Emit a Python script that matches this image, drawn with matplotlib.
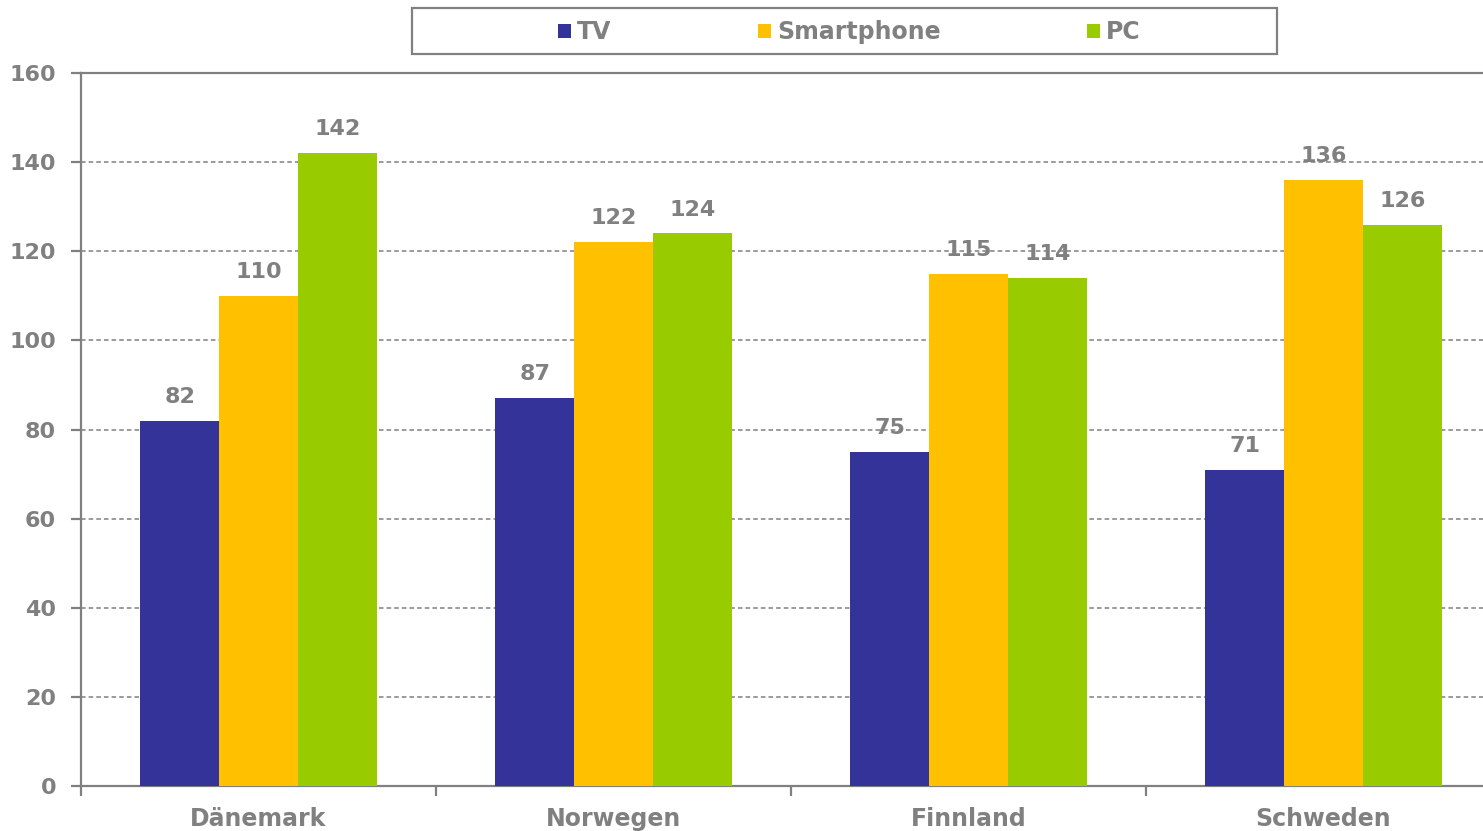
import matplotlib
matplotlib.use("Agg")
import matplotlib.pyplot as plt
from matplotlib.patches import Rectangle
import numpy as np

categories = ["Dänemark", "Norwegen", "Finnland", "Schweden"]
series_names = ["TV", "Smartphone", "PC"]
tv = [82, 87, 75, 71]
smartphone = [110, 122, 115, 136]
pc = [142, 124, 114, 126]
colors = ["#333399", "#FFC000", "#99CC00"]
yticks = [0, 20, 40, 60, 80, 100, 120, 140, 160]

gray = "#808080"
plt.rcParams['font.family'] = ['DejaVu Sans']
plt.rcParams['font.weight'] = 'bold'

W, H = 1483, 831
fig = plt.figure(figsize=(W / 100, H / 100), dpi=100)
ax = fig.add_axes([81 / W, 45 / H, 1420 / W, 713 / H])

x = np.arange(len(categories))
bw = 0.222
data = [tv, smartphone, pc]
for i, (vals, name, c) in enumerate(zip(data, series_names, colors)):
    bars = ax.bar(x + (i - 1) * bw, vals, width=bw, color=c, label=name, zorder=3)
    for b, v in zip(bars, vals):
        ax.annotate(str(v), (b.get_x() + b.get_width() / 2, b.get_height()),
                    xytext=(0, 10), textcoords="offset points", ha="center", va="bottom",
                    fontsize=16, color=gray, fontweight="bold", zorder=4)

ax.set_xlim(-0.5, len(categories) - 0.5)
ax.set_ylim(0, 160)
ax.set_yticks(yticks)
ax.set_yticklabels([str(t) for t in yticks])
ax.set_xticks(x)
ax.set_xticklabels(categories)
ax.set_xticks(np.arange(len(categories) + 1) - 0.5, minor=True)

for t in yticks[1:-1]:
    ax.axhline(t, color=gray, lw=1.1, ls=(0, (3, 2)), zorder=1)

ax.spines["right"].set_visible(False)
for s in ["left", "bottom", "top"]:
    ax.spines[s].set_color(gray)
    ax.spines[s].set_linewidth(1.6)

ax.tick_params(axis="y", direction="out", length=7, width=1.6, color=gray,
               labelcolor=gray, labelsize=16, pad=11)
ax.tick_params(axis="x", which="major", length=0, labelcolor=gray, labelsize=17, pad=15)
ax.tick_params(axis="x", which="minor", direction="out", length=7, width=1.6, color=gray)

# legend frame
fig.patches.append(Rectangle((412 / W, 1 - 54 / H), 865 / W, 46 / H, transform=fig.transFigure,
                             fill=False, edgecolor=gray, lw=1.6, zorder=5))
handles, labels = ax.get_legend_handles_labels()
leg = fig.legend(handles, labels, loc="center", bbox_to_anchor=((412 + 865 / 2 + 5) / W, 1 - 32 / H),
                 ncol=3, frameon=False, fontsize=17, handlelength=0.55, handleheight=0.55,
                 handletextpad=0.25, columnspacing=6.2, borderpad=0)
for t in leg.get_texts():
    t.set_color(gray)
    t.set_fontweight("bold")

fig.savefig("out.png", dpi=100)
